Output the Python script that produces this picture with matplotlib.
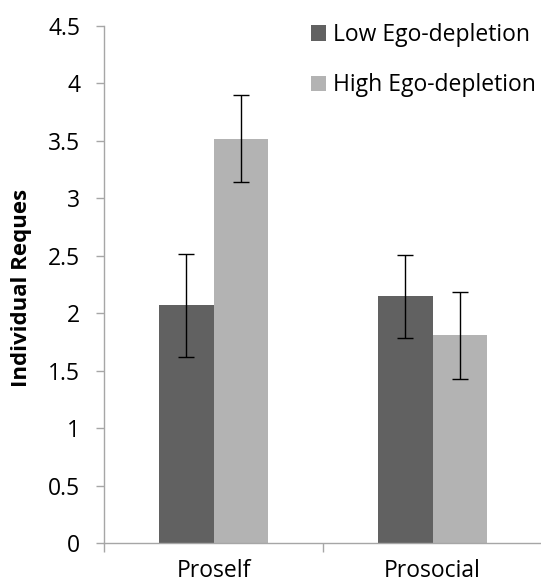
"""
Individual requests by social value orientation and ego-depletion condition.
"""

import matplotlib
matplotlib.use("Agg")
import matplotlib.pyplot as plt
import numpy as np

# data
categories = ["Proself", "Prosocial"]
low_means = [2.07, 2.15]
low_err_up = [0.45, 0.36]
low_err_down = [0.45, 0.36]
high_means = [3.52, 1.81]
high_err_up = [0.38, 0.38]
high_err_down = [0.38, 0.38]
series_labels = ["Low Ego-depletion", "High Ego-depletion"]
yticks = [0, 0.5, 1, 1.5, 2, 2.5, 3, 3.5, 4, 4.5]
ytick_labels = ["0", "0.5", "1", "1.5", "2", "2.5", "3", "3.5", "4", "4.5"]

DARK = "#616161"
LIGHT = "#b3b3b3"
SPINE = "#a6a6a6"
FS = 16.5

plt.rcParams["font.family"] = ["Open Sans", "DejaVu Sans"]

W, H = 541, 588
fig = plt.figure(figsize=(W / 100, H / 100), dpi=100)
ax = fig.add_axes([104 / W, 1 - 543.3 / H, 438 / W, (543.3 - 26) / H])

x = np.arange(len(categories))
width = 0.251
err_kw = dict(ecolor="black", elinewidth=1.0, capsize=6, capthick=1.0)
ax.bar(x - width / 2, low_means, width, color=DARK, label=series_labels[0],
       yerr=[low_err_down, low_err_up], error_kw=err_kw)
ax.bar(x + width / 2, high_means, width, color=LIGHT, label=series_labels[1],
       yerr=[high_err_down, high_err_up], error_kw=err_kw)

ax.set_xlim(-0.5, 1.5)
ax.set_ylim(0, 4.5)
ax.set_yticks(yticks)
ax.set_yticklabels(ytick_labels, fontsize=FS)

# boundary ticks as major, category names on minor ticks
ax.set_xticks([-0.5, 0.5, 1.5])
ax.set_xticklabels([])
ax.set_xticks(x, minor=True)
ax.set_xticklabels(categories, minor=True, fontsize=FS)
ax.tick_params(axis="x", which="major", direction="out", length=6.5, color=SPINE, width=1)
ax.tick_params(axis="x", which="minor", length=0, pad=11.5)
ax.tick_params(axis="y", direction="out", length=6, color=SPINE, width=1, pad=11)

for side in ("top", "right"):
    ax.spines[side].set_visible(False)
for side in ("left", "bottom"):
    ax.spines[side].set_color(SPINE)
    ax.spines[side].set_linewidth(1)

fig.text(22 / W, 1 - 288 / H, "Individual Reques", rotation=90, ha="center",
         va="center", fontsize=16, fontweight="bold")

ax.legend(loc="upper left", bbox_to_anchor=(311 / W, 1 - 23 / H),
          bbox_transform=fig.transFigure, frameon=False, fontsize=FS,
          handlelength=0.65, handleheight=0.65, handletextpad=0.3,
          labelspacing=1.15, borderpad=0, borderaxespad=0)

fig.savefig("out.png", dpi=100)
